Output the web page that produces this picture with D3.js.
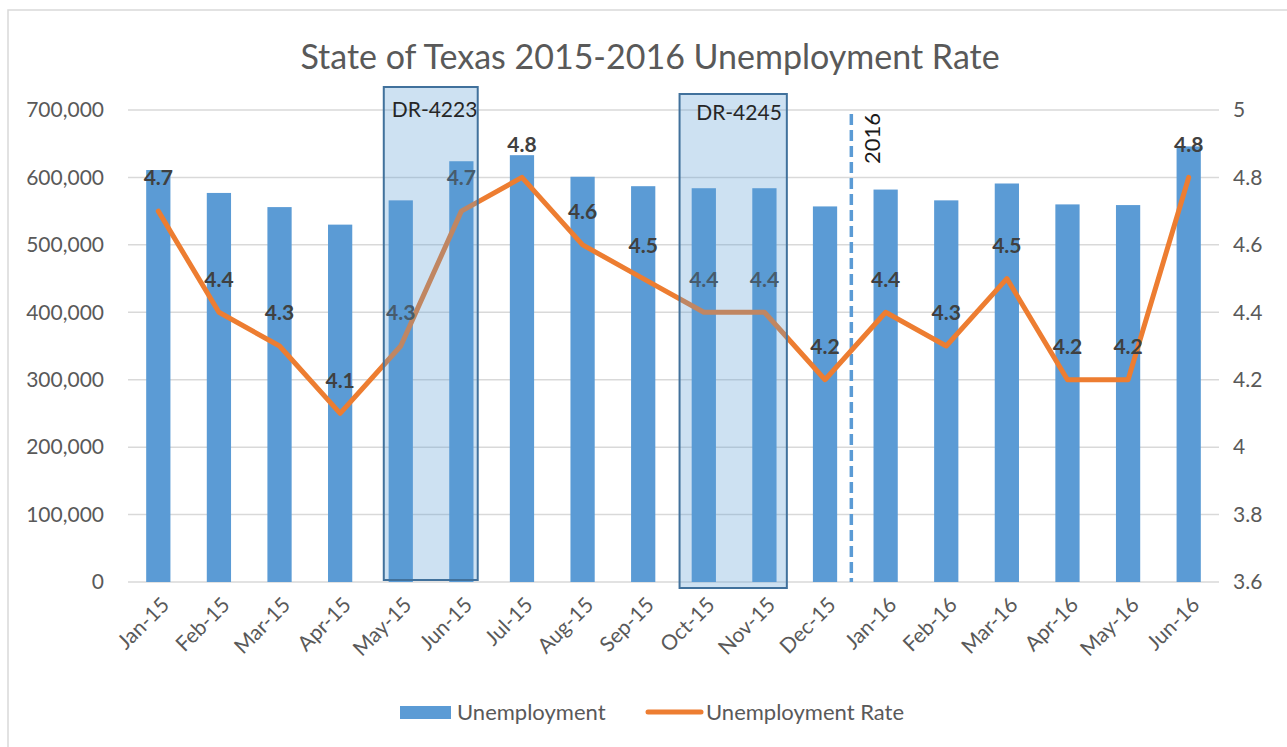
<!DOCTYPE html>
<html>
<head>
  <title>State of Texas 2015-2016 Unemployment Rate</title>
  <script src="https://d3js.org/d3.v7.min.js"></script>
  <style>
    body { margin: 0; background: #fff; }
    text { font-family: Lato, "Open Sans", sans-serif; }
  </style>
</head>
<body>
  <script>
    // chart data
    var months = ['Jan-15', 'Feb-15', 'Mar-15', 'Apr-15', 'May-15', 'Jun-15', 'Jul-15', 'Aug-15', 'Sep-15',
                  'Oct-15', 'Nov-15', 'Dec-15', 'Jan-16', 'Feb-16', 'Mar-16', 'Apr-16', 'May-16', 'Jun-16'];
    var unemployment = [611000, 577000, 556000, 530000, 566000, 624000, 633000, 601000, 587000,
                        584000, 584000, 557000, 582000, 566000, 591000, 560000, 559000, 646000];
    var rate = [4.7, 4.4, 4.3, 4.1, 4.3, 4.7, 4.8, 4.6, 4.5, 4.4, 4.4, 4.2, 4.4, 4.3, 4.5, 4.2, 4.2, 4.8];
    var leftTicks = [0, 100000, 200000, 300000, 400000, 500000, 600000, 700000];
    var rightTicks = [3.6, 3.8, 4, 4.2, 4.4, 4.6, 4.8, 5];
    var disasters = [
      { label: 'DR-4223', from: 'May-15', to: 'Jun-15' },
      { label: 'DR-4245', from: 'Oct-15', to: 'Nov-15' }
    ];
    var yearMark = { label: '2016', before: 'Jan-16' };
    var seriesNames = ['Unemployment', 'Unemployment Rate'];

    var width = 1287;
    var height = 747;
    // plot area (note: "top" is taken by window.top, so prefixed names)
    var plotL = 128, plotR = 1219, plotT = 110, plotB = 582;
    var blue = '#5B9BD5', orange = '#ED7D31';

    var svg = d3.select('body')
          .append('svg')
          .attr('width', width)
          .attr('height', height);

    // chart frame (cut off on the right and bottom in the picture)
    svg.append('rect')
      .attr('x', 8).attr('y', 10)
      .attr('width', 1400).attr('height', 900)
      .attr('fill', 'none')
      .attr('stroke', '#d9d9d9')
      .attr('stroke-width', 1.5);

    // scales
    var x = d3.scaleBand()
          .domain(months)
          .range([plotL, plotR])
          .paddingInner(0.6)
          .paddingOuter(0.3);
    var step = x.step();
    var cx = function (m) { return x(m) + x.bandwidth() / 2; };

    var yLeft = d3.scaleLinear().domain([0, 700000]).range([plotB, plotT]);
    var yRight = d3.scaleLinear().domain([3.6, 5]).range([plotB, plotT]);

    // title
    svg.append('text')
      .attr('x', 650).attr('y', 57)
      .attr('dy', '0.35em')
      .attr('text-anchor', 'middle')
      .attr('fill', '#595959')
      .style('font-size', '34px')
      .text('State of Texas 2015-2016 Unemployment Rate');

    // gridlines
    svg.append('g')
      .selectAll('line')
      .data(leftTicks)
      .enter()
      .append('line')
      .attr('x1', plotL).attr('x2', plotR)
      .attr('y1', function (d) { return yLeft(d); })
      .attr('y2', function (d) { return yLeft(d); })
      .attr('stroke', '#d9d9d9')
      .attr('stroke-width', 1.5);

    // axes
    var axisL = svg.append('g')
      .attr('transform', 'translate(' + plotL + ',0)')
      .call(d3.axisLeft(yLeft).tickValues(leftTicks).tickFormat(d3.format(',')).tickSize(0).tickPadding(24));
    var axisR = svg.append('g')
      .attr('transform', 'translate(' + plotR + ',0)')
      .call(d3.axisRight(yRight).tickValues(rightTicks).tickFormat(function (d) { return String(d); }).tickSize(0).tickPadding(14));
    [axisL, axisR].forEach(function (a) {
      a.select('.domain').remove();
      a.selectAll('text')
        .attr('fill', '#595959')
        .style('font-size', '21px')
        .style('font-family', 'Lato, sans-serif');
    });

    // x labels
    var axisX = svg.append('g')
      .attr('transform', 'translate(0,' + plotB + ')')
      .call(d3.axisBottom(x).tickSize(0).tickPadding(0));
    axisX.select('.domain').remove();
    axisX.selectAll('text')
      .attr('text-anchor', 'end')
      .attr('dy', '0.35em')
      .attr('y', 0)
      .attr('transform', 'translate(7,19) rotate(-45)')
      .attr('fill', '#595959')
      .style('font-size', '21px')
      .style('font-family', 'Lato, sans-serif');

    // bars
    svg.append('g')
      .selectAll('rect')
      .data(unemployment)
      .enter()
      .append('rect')
      .attr('x', function (d, i) { return x(months[i]); })
      .attr('y', function (d) { return yLeft(d); })
      .attr('width', x.bandwidth())
      .attr('height', function (d) { return plotB - yLeft(d); })
      .attr('fill', blue);

    // 2016 divider
    var xMark = x(yearMark.before) - step * 0.3 - 4;
    svg.append('line')
      .attr('x1', xMark).attr('x2', xMark)
      .attr('y1', 114).attr('y2', plotB)
      .attr('stroke', blue)
      .attr('stroke-width', 3.5)
      .attr('stroke-dasharray', '11,5');
    svg.append('text')
      .attr('transform', 'translate(' + (xMark + 29) + ',113) rotate(-90)')
      .attr('text-anchor', 'end')
      .attr('fill', '#1a1a1a')
      .style('font-size', '22px')
      .text(yearMark.label);

    // rate line
    var line = d3.line()
      .x(function (d, i) { return cx(months[i]); })
      .y(function (d) { return yRight(d); });
    svg.append('path')
      .datum(rate)
      .attr('d', line)
      .attr('fill', 'none')
      .attr('stroke', orange)
      .attr('stroke-width', 5)
      .attr('stroke-linejoin', 'round')
      .attr('stroke-linecap', 'round');

    // rate labels
    svg.append('g')
      .selectAll('text')
      .data(rate)
      .enter()
      .append('text')
      .attr('x', function (d, i) { return cx(months[i]); })
      .attr('y', function (d) { return yRight(d) - 33; })
      .attr('dy', '0.35em')
      .attr('text-anchor', 'middle')
      .attr('fill', '#404040')
      .style('font-size', '21px')
      .style('font-weight', 'bold')
      .text(function (d) { return d.toFixed(1); });

    // disaster boxes on top
    var boxes = svg.append('g')
      .selectAll('g')
      .data(disasters)
      .enter()
      .append('g');
    boxes.append('rect')
      .attr('x', function (d, i) { return x(d.from) - step * (i === 0 ? 0.08 : 0.2); })
      .attr('y', function (d, i) { return i === 0 ? 87 : 94; })
      .attr('width', function (d, i) {
        var x0 = x(d.from) - step * (i === 0 ? 0.08 : 0.2);
        var x1 = x(d.to) + x.bandwidth() + step * (i === 0 ? 0.07 : 0.17);
        return x1 - x0;
      })
      .attr('height', function (d, i) { return i === 0 ? 493 : 494; })
      .attr('fill', blue)
      .attr('fill-opacity', 0.3)
      .attr('stroke', '#41719C')
      .attr('stroke-width', 2);
    boxes.append('text')
      .attr('x', function (d, i) {
        return i === 0 ? x(d.from) - step * 0.08 + 8 : x(d.to) + x.bandwidth() + step * 0.17 - 5;
      })
      .attr('y', function (d, i) { return i === 0 ? 110 : 113; })
      .attr('dy', '0.35em')
      .attr('text-anchor', function (d, i) { return i === 0 ? 'start' : 'end'; })
      .attr('fill', '#262626')
      .style('font-size', '21px')
      .text(function (d) { return d.label; });

    // legend
    var legend = svg.append('g');
    legend.append('rect')
      .attr('x', 400).attr('y', 706)
      .attr('width', 51).attr('height', 13)
      .attr('fill', blue);
    legend.append('text')
      .attr('x', 457).attr('y', 712)
      .attr('dy', '0.35em')
      .attr('fill', '#595959')
      .style('font-size', '22px')
      .text(seriesNames[0]);
    legend.append('line')
      .attr('x1', 648).attr('x2', 701)
      .attr('y1', 712).attr('y2', 712)
      .attr('stroke', orange)
      .attr('stroke-width', 5)
      .attr('stroke-linecap', 'round');
    legend.append('text')
      .attr('x', 706).attr('y', 712)
      .attr('dy', '0.35em')
      .attr('fill', '#595959')
      .style('font-size', '22px')
      .text(seriesNames[1]);
  </script>
</body>
</html>
